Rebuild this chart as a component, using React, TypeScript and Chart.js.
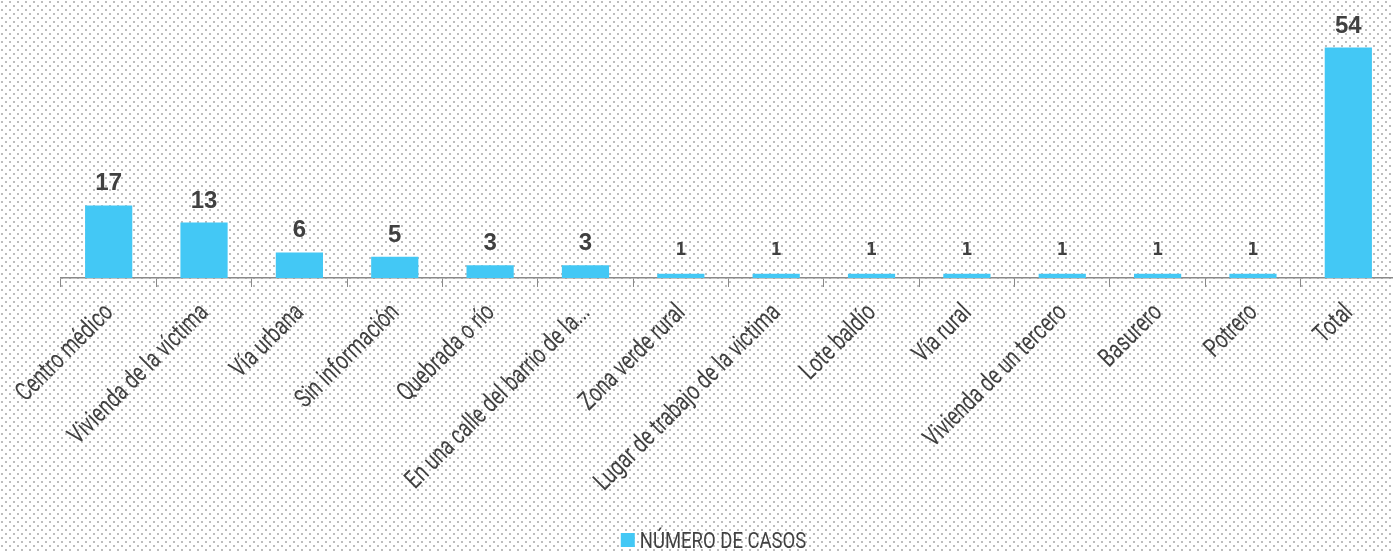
import React, { useEffect, useRef } from "react";
import { Chart, registerables } from "chart.js";

Chart.register(...registerables);

const categories: string[] = [
  "Centro médico",
  "Vivienda de la víctima",
  "Vía urbana",
  "Sin información",
  "Quebrada o río",
  "En una calle del barrio de la...",
  "Zona verde rural",
  "Lugar de trabajo de la victima",
  "Lote baldío",
  "Vía rural",
  "Vivienda de un tercero",
  "Basurero",
  "Potrero",
  "Total",
];

const casos: number[] = [17, 13, 6, 5, 3, 3, 1, 1, 1, 1, 1, 1, 1, 54];

const seriesName = "NÚMERO DE CASOS";

const BAR_COLOR = "#43c8f5";
const TEXT_COLOR = "#404040";
const AXIS_COLOR = "#8a8a8a";
const LABEL_FONT = "26px Roboto, 'Liberation Sans', sans-serif";
const LABEL_CONDENSE = 0.74;
const LEGEND_FONT = "22px Roboto, 'Liberation Sans', sans-serif";
const LEGEND_CONDENSE = 0.84;

const dottedBackground = {
  id: "dottedBackground",
  beforeDraw(chart: any) {
    const ctx = chart.ctx;
    const tile = document.createElement("canvas");
    tile.width = 8;
    tile.height = 8;
    const t = tile.getContext("2d")!;
    t.fillStyle = "#ffffff";
    t.fillRect(0, 0, 8, 8);
    t.fillStyle = "#bdbdbd";
    t.fillRect(1, 1, 2, 2);
    t.fillRect(5, 5, 2, 2);
    const pattern = ctx.createPattern(tile, "repeat");
    ctx.save();
    ctx.fillStyle = pattern;
    ctx.fillRect(0, 0, chart.width, chart.height);
    ctx.restore();
  },
};

const valueLabels = {
  id: "valueLabels",
  afterDatasetsDraw(chart: any) {
    const ctx = chart.ctx;
    const meta = chart.getDatasetMeta(0);
    const data = chart.data.datasets[0].data as number[];
    ctx.save();
    ctx.fillStyle = TEXT_COLOR;
    ctx.textAlign = "center";
    ctx.textBaseline = "alphabetic";
    meta.data.forEach((bar: any, i: number) => {
      const v = data[i];
      const small = v < 2;
      ctx.font = small
        ? "bold 18px 'DejaVu Sans Mono', monospace"
        : "bold 24px 'Liberation Sans', Arial, sans-serif";
      ctx.fillText(String(v), bar.x, bar.y - (small ? 19 : 15));
    });
    ctx.restore();
  },
};

// Condensed, rotated category labels and a condensed legend
const condensedText = {
  id: "condensedText",
  afterDraw(chart: any) {
    const ctx = chart.ctx;
    const xs = chart.scales.x;
    const area = chart.chartArea;
    const labels = chart.data.labels as string[];
    ctx.save();
    ctx.fillStyle = TEXT_COLOR;
    ctx.font = LABEL_FONT;
    ctx.textAlign = "right";
    ctx.textBaseline = "middle";
    labels.forEach((lab, i) => {
      const x = xs.getPixelForValue(i) + 1;
      const y = area.bottom + 31;
      ctx.save();
      ctx.translate(x, y);
      ctx.rotate(-Math.PI / 4);
      ctx.scale(LABEL_CONDENSE, 1);
      ctx.fillText(lab, 0, 0);
      ctx.restore();
    });

    // legend
    const ds = chart.data.datasets[0];
    ctx.font = LEGEND_FONT;
    const textW = ctx.measureText(ds.label).width * LEGEND_CONDENSE;
    const boxW = 14;
    const gap = 5;
    const total = boxW + gap + textW;
    const cx = (area.left + area.right) / 2 - 15;
    const left = cx - total / 2;
    const baseY = chart.height - 4;
    ctx.fillStyle = ds.backgroundColor;
    ctx.fillRect(left, baseY - 15, boxW, boxW);
    ctx.fillStyle = TEXT_COLOR;
    ctx.textAlign = "left";
    ctx.textBaseline = "alphabetic";
    ctx.save();
    ctx.translate(left + boxW + gap, baseY);
    ctx.scale(LEGEND_CONDENSE, 1);
    ctx.fillText(ds.label, 0, 0);
    ctx.restore();
    ctx.restore();
  },
};

export default function App() {
  const canvasRef = useRef<HTMLCanvasElement | null>(null);

  useEffect(() => {
    if (!canvasRef.current) return;
    const chart = new Chart(canvasRef.current, {
      type: "bar",
      data: {
        labels: categories,
        datasets: [
          {
            label: seriesName,
            data: casos,
            backgroundColor: BAR_COLOR,
            borderWidth: 0,
            categoryPercentage: 1,
            barPercentage: 0.495,
          },
        ],
      },
      options: {
        animation: false,
        responsive: true,
        maintainAspectRatio: false,
        layout: { padding: { left: 61, top: 22, right: 0, bottom: 0 } },
        plugins: {
          tooltip: { enabled: false },
          legend: { display: false },
        },
        scales: {
          x: {
            offset: true,
            grid: {
              offset: true,
              drawOnChartArea: false,
              drawTicks: true,
              tickLength: 9,
              color: AXIS_COLOR,
            },
            border: { display: true, color: AXIS_COLOR, width: 1.5 },
            ticks: { display: false, autoSkip: false },
            afterFit(scale: any) {
              scale.height = scale.chart.height - 278;
            },
          },
          y: {
            display: false,
            min: 0,
            max: 60,
          },
        },
      },
      plugins: [dottedBackground, valueLabels, condensedText],
    });
    return () => chart.destroy();
  }, []);

  return (
    <div
      style={{
        position: "fixed",
        left: 0,
        top: 0,
        width: 1393,
        height: 552,
        overflow: "hidden",
      }}
    >
      <div style={{ position: "relative", width: 1396, height: 552 }}>
        <canvas ref={canvasRef} />
      </div>
    </div>
  );
}
